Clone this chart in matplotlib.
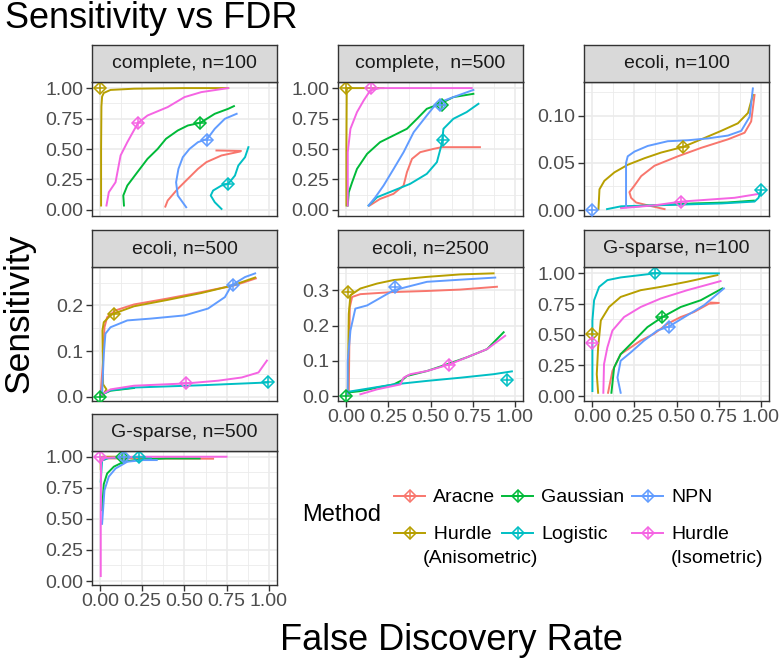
import matplotlib
matplotlib.use("Agg")
import matplotlib.pyplot as plt
from matplotlib.lines import Line2D
from matplotlib.ticker import MultipleLocator, FormatStrFormatter

plt.rcParams['font.family'] = ['Liberation Sans', 'DejaVu Sans']

# métodos y colores (orden de ggplot)
methods = ["Aracne", "HurdleA", "Gaussian", "Logistic", "NPN", "HurdleI"]
labels = ["Aracne", "  Hurdle\n(Anisometric)", "Gaussian", "Logistic", "NPN", "Hurdle\n(Isometric)"]
colors = ["#F8766D", "#B79F00", "#00BA38", "#00BFC4", "#619CFF", "#F564E3"]

# curvas (FDR, sensibilidad) por panel
complete_100 = {
    "Aracne": ([0.386, 0.40, 0.46, 0.52, 0.58, 0.63, 0.72, 0.83, 0.836, 0.69],
               [0.027, 0.077, 0.173, 0.255, 0.337, 0.392, 0.447, 0.479, 0.484, 0.488]),
    "HurdleA": ([0.004, 0.004, 0.006, 0.01, 0.02, 0.06, 0.2, 0.5, 0.76],
                [0.036, 0.5, 0.85, 0.93, 0.96, 0.985, 0.995, 1.0, 1.0]),
    "Gaussian": ([0.14, 0.136, 0.16, 0.22, 0.28, 0.34, 0.39, 0.46, 0.52, 0.594, 0.68, 0.76, 0.794],
                 [0.036, 0.118, 0.2, 0.31, 0.419, 0.5, 0.584, 0.652, 0.693, 0.715, 0.789, 0.83, 0.852]),
    "Logistic": ([0.72, 0.68, 0.656, 0.67, 0.72, 0.76, 0.80, 0.82, 0.86, 0.88],
                 [0.008, 0.063, 0.118, 0.159, 0.2, 0.214, 0.282, 0.364, 0.433, 0.515]),
    "NPN": ([0.51, 0.46, 0.45, 0.464, 0.49, 0.53, 0.58, 0.636, 0.68, 0.74, 0.81],
            [0.022, 0.118, 0.227, 0.337, 0.433, 0.501, 0.556, 0.584, 0.666, 0.748, 0.789]),
    "HurdleI": ([0.036, 0.05, 0.09, 0.12, 0.16, 0.224, 0.28, 0.40, 0.50, 0.60, 0.76],
                [0.036, 0.145, 0.227, 0.447, 0.556, 0.715, 0.775, 0.844, 0.926, 0.967, 1.0]),
}
complete_100_marks = {"HurdleA": (0.0, 1.0), "Gaussian": (0.594, 0.715), "Logistic": (0.76, 0.214),
                      "NPN": (0.636, 0.575), "HurdleI": (0.224, 0.715)}

complete_500 = {
    "Aracne": ([0.138, 0.2, 0.28, 0.34, 0.36, 0.39, 0.439, 0.518, 0.567, 0.794],
               [0.036, 0.09, 0.132, 0.2, 0.31, 0.419, 0.474, 0.501, 0.515, 0.515]),
    "HurdleA": ([0.0, 0.0, 0.002, 0.01, 0.22],
                [0.036, 0.5, 0.99, 1.0, 1.0]),
    "Gaussian": ([0.008, 0.014, 0.034, 0.063, 0.123, 0.2, 0.28, 0.36, 0.42, 0.478, 0.557, 0.636, 0.755],
                 [0.036, 0.145, 0.227, 0.337, 0.46, 0.556, 0.611, 0.666, 0.748, 0.83, 0.871, 0.926, 0.953]),
    "Logistic": ([0.132, 0.182, 0.281, 0.379, 0.478, 0.538, 0.567, 0.577, 0.636, 0.715, 0.785],
                 [0.036, 0.104, 0.159, 0.214, 0.296, 0.392, 0.542, 0.666, 0.748, 0.803, 0.871]),
    "NPN": ([0.132, 0.172, 0.221, 0.281, 0.34, 0.4, 0.478, 0.518, 0.557, 0.636, 0.755],
            [0.036, 0.104, 0.2, 0.337, 0.474, 0.638, 0.775, 0.844, 0.885, 0.926, 0.985]),
    "HurdleI": ([0.008, 0.008, 0.024, 0.063, 0.103, 0.142, 0.2, 0.745],
                [0.036, 0.474, 0.666, 0.803, 0.899, 0.981, 1.0, 1.0]),
}
complete_500_marks = {"HurdleA": (0.0, 1.0), "Gaussian": (0.567, 0.858), "Logistic": (0.573, 0.575),
                      "NPN": (0.557, 0.863), "HurdleI": (0.148, 1.0)}

ecoli_100 = {
    "Aracne": ([0.429, 0.329, 0.26, 0.23, 0.22, 0.25, 0.29, 0.369, 0.508, 0.647, 0.806, 0.905, 0.944, 0.964],
               [0.001, 0.005, 0.008, 0.013, 0.019, 0.026, 0.036, 0.047, 0.057, 0.066, 0.075, 0.082, 0.094, 0.122]),
    "HurdleA": ([0.036, 0.042, 0.071, 0.131, 0.21, 0.31, 0.409, 0.54, 0.647, 0.766, 0.865, 0.925, 0.954],
                [0.001, 0.022, 0.031, 0.040, 0.048, 0.055, 0.061, 0.067, 0.075, 0.084, 0.092, 0.103, 0.122]),
    "Gaussian": ([0.17, 0.37, 0.6, 0.8, 0.96],
                 [0.003, 0.005, 0.007, 0.008, 0.010]),
    "Logistic": ([0.087, 0.171, 0.369, 0.567, 0.766, 0.964, 0.988, 1.0],
                 [0.001, 0.004, 0.005, 0.006, 0.007, 0.009, 0.013, 0.02]),
    "NPN": ([0.2, 0.2, 0.21, 0.25, 0.329, 0.448, 0.567, 0.687, 0.806, 0.885, 0.935, 0.954],
            [0.003, 0.050, 0.057, 0.062, 0.068, 0.073, 0.074, 0.076, 0.079, 0.084, 0.099, 0.129]),
    "HurdleI": ([0.171, 0.369, 0.528, 0.687, 0.845, 0.984],
                [0.002, 0.005, 0.009, 0.011, 0.013, 0.017]),
}
ecoli_100_marks = {"HurdleA": (0.54, 0.067), "Logistic": (1.0, 0.021), "NPN": (0.0, 0.0),
                   "HurdleI": (0.524, 0.009)}

ecoli_500 = {
    "Aracne": ([0.0, 0.016, 0.024, 0.04, 0.09, 0.2, 0.4, 0.6, 0.8, 0.924],
               [0.001, 0.079, 0.152, 0.174, 0.189, 0.202, 0.215, 0.229, 0.244, 0.259]),
    "HurdleA": ([0.01, 0.036, 0.016, 0.012, 0.02, 0.06, 0.08, 0.2, 0.4, 0.6, 0.78, 0.92],
                [0.001, 0.016, 0.027, 0.145, 0.163, 0.178, 0.182, 0.198, 0.212, 0.227, 0.243, 0.261]),
    "Gaussian": ([0.0, 0.01, 0.06, 0.2],
                 [0.0, 0.005, 0.013, 0.019]),
    "Logistic": ([0.01, 0.06, 0.2, 0.6, 0.99],
                 [0.005, 0.014, 0.020, 0.025, 0.031]),
    "NPN": ([0.01, 0.02, 0.03, 0.06, 0.16, 0.3, 0.5, 0.64, 0.74, 0.78, 0.86, 0.92],
            [0.005, 0.093, 0.138, 0.152, 0.167, 0.171, 0.178, 0.193, 0.218, 0.244, 0.262, 0.27]),
    "HurdleI": ([0.01, 0.06, 0.2, 0.51, 0.7, 0.84, 0.94, 0.99],
                [0.005, 0.016, 0.024, 0.029, 0.035, 0.042, 0.053, 0.079]),
}
ecoli_500_marks = {"HurdleA": (0.08, 0.18), "Gaussian": (0.0, 0.0), "Logistic": (0.994, 0.032),
                   "NPN": (0.79, 0.244), "HurdleI": (0.51, 0.029)}

ecoli_2500 = {
    "Aracne": ([0.014, 0.02, 0.034, 0.083, 0.281, 0.479, 0.677, 0.895],
               [0.005, 0.252, 0.281, 0.289, 0.295, 0.298, 0.302, 0.31]),
    "HurdleA": ([0.008, 0.014, 0.024, 0.083, 0.182, 0.281, 0.479, 0.677, 0.875],
                [0.005, 0.233, 0.286, 0.305, 0.319, 0.329, 0.338, 0.345, 0.348]),
    "Gaussian": ([0.008, 0.083, 0.182, 0.281, 0.331, 0.36, 0.479, 0.598, 0.717, 0.836, 0.935],
                 [0.01, 0.014, 0.024, 0.033, 0.045, 0.057, 0.071, 0.09, 0.11, 0.133, 0.181]),
    "Logistic": ([0.008, 0.281, 0.479, 0.677, 0.875, 0.984],
                 [0.012, 0.033, 0.043, 0.052, 0.062, 0.07]),
    "NPN": ([0.008, 0.008, 0.024, 0.053, 0.123, 0.281, 0.479, 0.677, 0.885],
            [0.005, 0.1, 0.186, 0.248, 0.257, 0.3, 0.324, 0.33, 0.336]),
    "HurdleI": ([0.083, 0.182, 0.321, 0.34, 0.38, 0.479, 0.608, 0.717, 0.836, 0.944],
                [0.005, 0.019, 0.033, 0.052, 0.062, 0.071, 0.089, 0.11, 0.133, 0.171]),
}
ecoli_2500_marks = {"HurdleA": (0.008, 0.295), "Gaussian": (0.0, 0.0), "Logistic": (0.954, 0.045),
                    "NPN": (0.287, 0.31), "HurdleI": (0.608, 0.087)}

gsparse_100 = {
    "Aracne": ([0.093, 0.119, 0.168, 0.228, 0.287, 0.366, 0.446, 0.525, 0.604, 0.693, 0.752, 0.703],
               [0.027, 0.205, 0.342, 0.397, 0.452, 0.507, 0.589, 0.644, 0.685, 0.753, 0.759, 0.762]),
    "HurdleA": ([0.034, 0.026, 0.034, 0.05, 0.099, 0.168, 0.287, 0.406, 0.564, 0.743],
                [0.027, 0.178, 0.397, 0.616, 0.726, 0.808, 0.863, 0.89, 0.932, 0.986]),
    "Gaussian": ([0.113, 0.129, 0.168, 0.248, 0.327, 0.416, 0.525, 0.644, 0.772],
                 [0.027, 0.233, 0.342, 0.452, 0.562, 0.644, 0.726, 0.781, 0.877]),
    "Logistic": ([0.0, 0.0, 0.01, 0.04, 0.089, 0.168, 0.372, 0.564, 0.752],
                 [0.041, 0.616, 0.781, 0.89, 0.945, 0.967, 1.0, 1.0, 1.0]),
    "NPN": ([0.168, 0.149, 0.168, 0.228, 0.307, 0.386, 0.455, 0.564, 0.663, 0.782],
            [0.027, 0.151, 0.288, 0.356, 0.452, 0.534, 0.567, 0.658, 0.74, 0.877]),
    "HurdleI": ([0.065, 0.069, 0.089, 0.119, 0.188, 0.287, 0.406, 0.564, 0.762],
                [0.027, 0.26, 0.397, 0.534, 0.644, 0.726, 0.795, 0.863, 0.937]),
}
gsparse_100_marks = {"HurdleA": (0.0, 0.507), "Gaussian": (0.416, 0.644), "Logistic": (0.372, 1.0),
                     "NPN": (0.455, 0.567), "HurdleI": (0.0, 0.43)}

gsparse_500 = {
    "Aracne": ([0.01, 0.04, 0.2, 0.67],
               [0.97, 0.986, 0.986, 0.984]),
    "HurdleA": ([0.002, 0.002, 0.01, 0.1],
                [0.9, 0.99, 1.0, 1.0]),
    "Gaussian": ([0.01, 0.02, 0.04, 0.08, 0.14, 0.24, 0.39, 0.59],
                 [0.57, 0.78, 0.865, 0.92, 0.96, 0.978, 0.986, 0.986]),
    "Logistic": ([0.002, 0.01, 0.05, 0.23, 0.3],
                 [0.8, 0.97, 0.99, 1.0, 0.99]),
    "NPN": ([0.01, 0.024, 0.05, 0.09, 0.16, 0.256, 0.335],
            [0.46, 0.73, 0.84, 0.905, 0.96, 0.973, 0.973]),
    "HurdleI": ([0.002, 0.002, 0.004, 0.01, 0.2, 0.75],
                [0.04, 0.5, 0.95, 0.99, 1.0, 1.0]),
}
gsparse_500_marks = {"Gaussian": (0.13, 1.0), "Logistic": (0.227, 1.0), "NPN": (0.138, 1.0),
                     "HurdleI": (0.0, 1.0)}

# título, curvas, marcadores, límites y, paso y, formato, fila, columna, etiquetas x
panels = [
    ("complete, n=100", complete_100, complete_100_marks, (-0.05, 1.05), 0.25, "%.2f", 0, 0, False),
    ("complete,  n=500", complete_500, complete_500_marks, (-0.05, 1.05), 0.25, "%.2f", 0, 1, False),
    ("ecoli, n=100", ecoli_100, ecoli_100_marks, (-0.0063, 0.1358), 0.05, "%.2f", 0, 2, False),
    ("ecoli, n=500", ecoli_500, ecoli_500_marks, (-0.0095, 0.284), 0.1, "%.1f", 1, 0, False),
    ("ecoli, n=2500", ecoli_2500, ecoli_2500_marks, (-0.014, 0.366), 0.1, "%.1f", 1, 1, True),
    ("G-sparse, n=100", gsparse_100, gsparse_100_marks, (-0.04, 1.052), 0.25, "%.2f", 1, 2, True),
    ("G-sparse, n=500", gsparse_500, gsparse_500_marks, (-0.032, 1.046), 0.25, "%.2f", 2, 0, True),
]

W, H = 780, 660
fig = plt.figure(figsize=(7.8, 6.6), dpi=100)

col_left = [92, 338, 584]
panel_top = [82, 267, 451]
panel_w, panel_h, strip_h = 185, 134, 37


def px_axes(left, top, w, h):
    return fig.add_axes([left / W, 1 - (top + h) / H, w / W, h / H])


for title, curves, marks, ylim, ystep, fmt, r, c, xlab in panels:
    ax = px_axes(col_left[c], panel_top[r], panel_w, panel_h)
    ax.set_facecolor("white")
    for m, col in zip(methods, colors):
        if m in curves:
            fx, sy = curves[m]
            ax.plot(fx, sy, color=col, lw=1.4, zorder=3)
    for m, col in zip(methods, colors):
        if m in marks:
            mx, my = marks[m]
            ax.plot(mx, my, marker="D", ms=5.8, mfc="none", mec=col, mew=1.1, zorder=4)
            ax.plot(mx, my, marker="+", ms=8, mec=col, mew=1.1, zorder=4)
    ax.set_xlim(-0.05, 1.05)
    ax.set_ylim(*ylim)
    ax.xaxis.set_major_locator(MultipleLocator(0.25))
    ax.xaxis.set_minor_locator(MultipleLocator(0.125))
    ax.yaxis.set_major_locator(MultipleLocator(ystep))
    ax.yaxis.set_minor_locator(MultipleLocator(ystep / 2))
    ax.yaxis.set_major_formatter(FormatStrFormatter(fmt))
    ax.xaxis.set_major_formatter(FormatStrFormatter("%.2f"))
    ax.grid(which="major", color="#EBEBEB", lw=1.2, zorder=0)
    ax.grid(which="minor", color="#EBEBEB", lw=0.6, zorder=0)
    ax.set_axisbelow(True)
    for s in ax.spines.values():
        s.set_color("#333333")
        s.set_linewidth(1.0)
    ax.tick_params(which="minor", length=0)
    ax.tick_params(axis="y", which="major", length=4, width=1, color="#333333",
                   labelsize=14, labelcolor="#4D4D4D", pad=2)
    if xlab:
        ax.tick_params(axis="x", which="major", length=4, width=1, color="#333333",
                       labelsize=14, labelcolor="#4D4D4D", pad=2)
    else:
        ax.tick_params(axis="x", which="major", length=0, labelbottom=False)

    st = px_axes(col_left[c], panel_top[r] - strip_h, panel_w, strip_h)
    st.set_facecolor("#D9D9D9")
    st.set_xticks([])
    st.set_yticks([])
    for s in st.spines.values():
        s.set_color("#333333")
        s.set_linewidth(1.0)
    st.text(0.5, 0.5, title, ha="center", va="center", fontsize=14, color="#1A1A1A",
            transform=st.transAxes)

fig.text(5 / W, 1 - 1 / H, "Sensitivity vs FDR", fontsize=26, ha="left", va="top")
fig.text(451 / W, 1 - 641 / H, "False Discovery Rate", fontsize=26, ha="center", va="center")
fig.text(19 / W, 1 - 313 / H, "Sensitivity", fontsize=25.5, ha="center", va="center", rotation=90)

# leyenda
fig.text(302 / W, 1 - 515 / H, "Method", fontsize=17, ha="left", va="center")
key_x = [394, 502, 632]
row_y = [496, 533]
for i, (lab, col) in enumerate(zip(labels, colors)):
    c, r = i // 2, i % 2
    x0, y0 = key_x[c], row_y[r]
    fig.add_artist(Line2D([x0 / W, (x0 + 31) / W], [1 - y0 / H, 1 - y0 / H], color=col, lw=1.4))
    fig.add_artist(Line2D([(x0 + 15.5) / W], [1 - y0 / H], marker="D", ms=5.8, mfc="none",
                          mec=col, mew=1.1))
    fig.add_artist(Line2D([(x0 + 15.5) / W], [1 - y0 / H], marker="+", ms=8, mec=col, mew=1.1))
    tx = x0 + 39 if not lab.startswith(" ") else x0 + 29
    fig.text(tx / W, 1 - (y0 - 7) / H, lab, fontsize=14, ha="left", va="top",
             linespacing=1.55)

fig.savefig("out.png", dpi=100)
